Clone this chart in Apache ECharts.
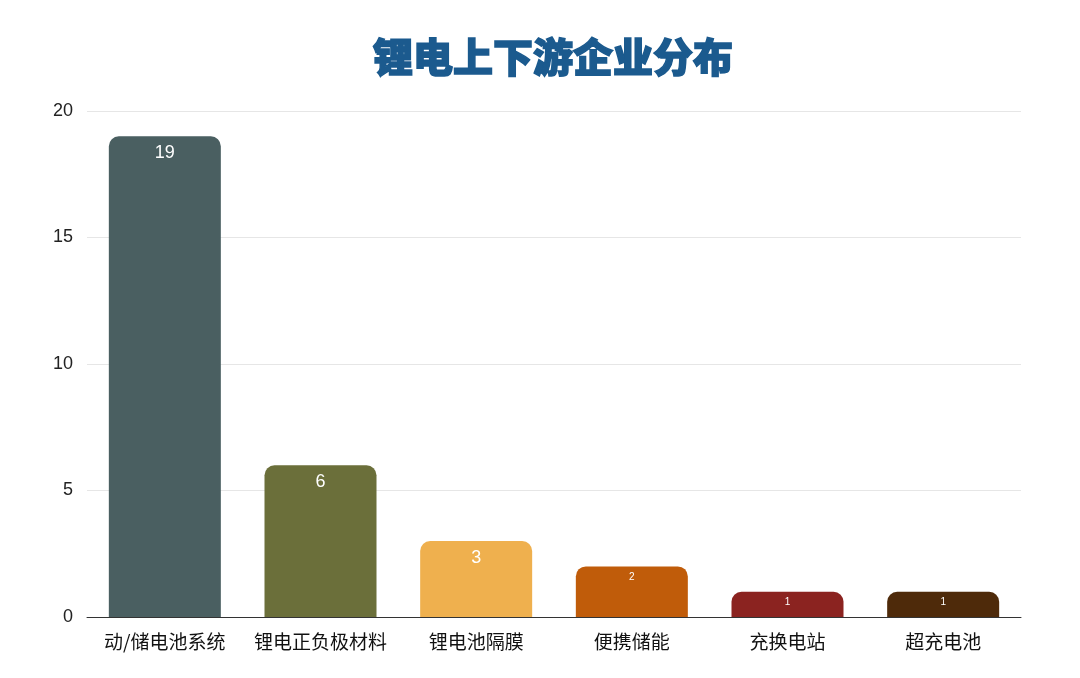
<!DOCTYPE html>
<html><head><meta charset="utf-8">
<script src="https://cdn.jsdelivr.net/npm/echarts@6/dist/echarts.min.js"></script>
<style>html,body{margin:0;padding:0;background:#fff}#c{width:1080px;height:678px}</style>
</head><body><div id="c"></div>
<script>
const categories = ['动/储电池系统','锂电正负极材料','锂电池隔膜','便携储能','充换电站','超充电池'];
const values = [19, 6, 3, 2, 1, 1];
const barColors = ['#4a5f61','#6b6f3a','#efb04e','#c05c0a','#8b2320','#4e2a0a'];
const labelSizes = [18, 18, 18, 10, 10, 10];
const yTicks = [0, 5, 10, 15, 20];

const chart = echarts.init(document.getElementById('c'));
chart.setOption({
  animation: false,
  backgroundColor: '#fff',
  title: {
    text: '锂电上下游企业分布',
    left: 368, top: 32,
    textStyle: {fontFamily: 'Noto Sans CJK SC', fontWeight: 900, fontSize: 40, color: '#1b5a8e',
      textBorderColor: '#1b5a8e', textBorderWidth: 1.5}
  },
  grid: {left: 87, right: 59, top: 111, bottom: 61, containLabel: false},
  xAxis: {
    type: 'category', data: categories,
    axisLine: {lineStyle: {color: '#333', width: 1}},
    axisTick: {show: false},
    axisLabel: {interval: 0, fontFamily: 'Noto Sans CJK SC', fontSize: 19, color: '#111', margin: 15}
  },
  yAxis: {
    type: 'value', min: yTicks[0], max: yTicks[yTicks.length-1], interval: 5,
    axisLine: {show: false}, axisTick: {show: false},
    splitLine: {lineStyle: {color: '#e6e6e6'}},
    axisLabel: {fontFamily: 'Liberation Sans', fontSize: 18, color: '#222', margin: 14}
  },
  series: [{
    type: 'bar', barWidth: 112,
    data: values.map((v, i) => ({
      value: v,
      itemStyle: {color: barColors[i], borderRadius: [10, 10, 0, 0]},
      label: {fontSize: labelSizes[i], distance: labelSizes[i] > 12 ? 8 : 6}
    })),
    label: {show: true, position: 'insideTop', color: '#fff', fontFamily: 'Liberation Sans'}
  }]
});
</script></body></html>
